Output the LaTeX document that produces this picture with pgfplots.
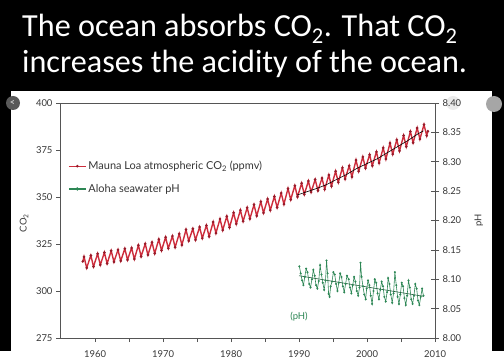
\documentclass[border=0pt]{standalone}
\usepackage{pgfplots}
\pgfplotsset{compat=1.18}
\usepackage{fontspec}
\setmainfont{Lato}
\newfontfamily\titlefont{Carlito}
\definecolor{co2red}{RGB}{205,45,60}
\definecolor{co2dark}{RGB}{150,25,40}
\definecolor{phgreen}{RGB}{45,135,85}
\definecolor{axgray}{RGB}{85,85,85}
\definecolor{txtgray}{RGB}{55,55,55}

\pgfplotstableread{
x y
1958.20 315.7
1958.38 318.2
1958.78 312.3
1959.38 318.9
1959.78 313.0
1960.38 319.8
1960.78 313.9
1961.38 320.5
1961.78 314.6
1962.38 321.4
1962.78 315.5
1963.38 321.9
1963.78 316.0
1964.38 322.5
1964.78 316.6
1965.38 322.9
1965.78 317.0
1966.38 324.3
1966.78 318.4
1967.38 325.1
1967.78 319.2
1968.38 325.9
1968.78 320.0
1969.38 327.5
1969.78 321.6
1970.38 328.6
1970.78 322.7
1971.38 329.2
1971.78 323.3
1972.38 330.4
1972.78 324.5
1973.38 332.6
1973.78 326.7
1974.38 333.1
1974.78 327.2
1975.38 334.0
1975.78 328.1
1976.38 334.9
1976.78 329.0
1977.38 336.7
1977.78 330.8
1978.38 338.3
1978.78 332.4
1979.38 339.7
1979.78 333.8
1980.38 341.6
1980.78 335.7
1981.38 343.0
1981.78 337.1
1982.38 344.3
1982.78 338.4
1983.38 345.9
1983.78 340.0
1984.38 347.5
1984.78 341.6
1985.38 348.9
1985.78 343.0
1986.38 350.3
1986.78 344.4
1987.38 352.1
1987.78 346.2
1988.38 354.5
1988.78 348.6
1989.38 356.0
1989.78 350.1
1990.38 357.3
1990.78 351.4
1991.38 358.5
1991.78 352.6
1992.38 359.3
1992.78 353.4
1993.38 360.0
1993.78 354.1
1994.38 361.7
1994.78 355.8
1995.38 363.7
1995.78 357.8
1996.38 365.5
1996.78 359.6
1997.38 366.6
1997.78 360.7
1998.38 369.6
1998.78 363.7
1999.38 371.3
1999.78 365.4
2000.38 372.5
2000.78 366.6
2001.38 374.0
2001.78 368.1
2002.38 376.1
2002.78 370.2
2003.38 378.7
2003.78 372.8
2004.38 380.4
2004.78 374.5
2005.38 382.7
2005.78 376.8
2006.38 384.8
2006.78 378.9
2007.38 386.7
2007.78 380.8
2008.38 388.5
2008.78 382.6
2008.95 385.0
}\co

\pgfplotstableread{
x y
1989.7 351.0
1991.0 352.6
1992.5 354.4
1994.0 356.5
1995.5 359.3
1997.0 362.0
1998.5 365.2
2000.0 367.8
2001.5 370.3
2003.0 373.6
2004.5 376.8
2006.0 380.0
2007.5 383.6
2008.3 385.2
}\aloha

\pgfplotstableread{
x y
1990.05 8.122
1990.25 8.110
1990.45 8.098
1990.65 8.090
1990.85 8.104
1991.05 8.118
1991.25 8.112
1991.50 8.092
1991.70 8.086
1991.90 8.100
1992.10 8.116
1992.30 8.106
1992.50 8.090
1992.70 8.084
1992.90 8.097
1993.10 8.124
1993.30 8.108
1993.50 8.094
1993.70 8.082
1993.90 8.098
1994.05 8.132
1994.20 8.110
1994.35 8.075
1994.50 8.070
1994.65 8.088
1994.85 8.096
1995.05 8.112
1995.25 8.108
1995.45 8.092
1995.65 8.080
1995.85 8.094
1996.05 8.110
1996.25 8.104
1996.45 8.088
1996.65 8.078
1996.85 8.092
1997.05 8.106
1997.30 8.100
1997.50 8.086
1997.70 8.076
1997.90 8.090
1998.10 8.104
1998.30 8.096
1998.50 8.080
1998.70 8.072
1998.90 8.086
1999.05 8.128
1999.20 8.104
1999.40 8.088
1999.60 8.074
1999.80 8.066
1999.95 8.084
2000.15 8.098
2000.35 8.090
2000.55 8.072
2000.75 8.058
2000.95 8.080
2001.15 8.100
2001.35 8.094
2001.55 8.076
2001.75 8.066
2001.95 8.082
2002.15 8.096
2002.35 8.088
2002.55 8.070
2002.75 8.062
2002.95 8.078
2003.10 8.102
2003.30 8.092
2003.50 8.074
2003.70 8.060
2003.90 8.076
2004.10 8.112
2004.30 8.090
2004.50 8.070
2004.70 8.058
2004.90 8.074
2005.10 8.094
2005.30 8.088
2005.50 8.068
2005.70 8.056
2005.90 8.072
2006.10 8.098
2006.30 8.086
2006.50 8.066
2006.70 8.058
2006.90 8.072
2007.10 8.092
2007.30 8.084
2007.50 8.064
2007.70 8.056
2007.90 8.070
2008.10 8.084
2008.30 8.072
}\ph

\pgfplotstableread{
x y
1990.0 8.106
2008.3 8.071
}\phtrend

\begin{document}
\begin{tikzpicture}
\begin{scope}[x=1bp,y=1bp]
\path[use as bounding box] (0,0) rectangle (504,351);
\fill[black] (0,0) rectangle (504,351);
\fill[white] (11,0) rectangle (492,260);
\fill[black!8] (453,248) circle (7);
\fill[black!35] (494,247) circle (8);
\fill[black!65] (13,248) circle (7);
\node[text=black!20, font=\fontsize{9}{9}\selectfont\bfseries, inner sep=0] at (12.5,248) {<};
\node[anchor=base west, text=white, inner sep=0, font=\titlefont\fontsize{32.3}{36}\selectfont] at (22,314) {The ocean absorbs CO\textsubscript{2}. That CO\textsubscript{2}};
\node[anchor=base west, text=white, inner sep=0, font=\titlefont\fontsize{32.3}{36}\selectfont] at (22,278) {increases the acidity of the ocean.};
\end{scope}

\begin{axis}[
  at={(60bp,13bp)}, anchor=south west,
  scale only axis, width=375bp, height=235bp,
  xmin=1954.85, xmax=2010, ymin=275, ymax=400,
  xtick={1960,1970,...,2010}, minor xtick={1965,1975,...,2005},
  ytick={275,300,...,400},
  xtick pos=lower, ytick pos=left,
  tick align=outside, major tick length=4bp, minor tick length=4bp,
  tick style={axgray, line width=0.7pt},
  axis line style={axgray, line width=0.7pt},
  ticklabel style={font=\fontsize{9.5}{9.5}\selectfont, text=txtgray},
  /pgf/number format/assume math mode=true,
  xticklabel style={/pgf/number format/1000 sep={}, yshift=-5bp},
  ylabel={CO\textsubscript{2}},
  ylabel style={at={(rel axis cs:-0.096,0.489)}, anchor=center, font=\fontsize{9.5}{9.5}\selectfont, text=txtgray},
  legend style={at={(0.013,0.77)}, anchor=north west, draw=none, fill=none,
    font=\fontsize{11}{11}\selectfont, text=txtgray, row sep=9bp},
  legend cell align=left,
]
\addplot[co2red, line width=1.4pt, mark=*, mark size=0.5pt, mark options={co2dark}] table[x=x,y=y] {\co};
\addlegendentry{Mauna Loa atmospheric CO\textsubscript{2} (ppmv)}
\addlegendimage{phgreen, line width=1.1pt, mark=*, mark size=1pt}
\addlegendentry{Aloha seawater pH}
\addplot[black, line width=0.6pt, forget plot] table[x=x,y=y] {\aloha};
\end{axis}

\begin{axis}[
  at={(60bp,13bp)}, anchor=south west,
  scale only axis, width=375bp, height=235bp,
  xmin=1954.85, xmax=2010, ymin=8.0, ymax=8.4,
  axis x line=none, axis y line*=right,
  ytick={8.00,8.05,8.10,8.15,8.20,8.25,8.30,8.35,8.40},
  tick align=center, major tick length=8bp,
  tick style={axgray, line width=0.7pt},
  axis line style={axgray, line width=0.7pt, -},
  ticklabel style={font=\fontsize{9.5}{9.5}\selectfont, text=txtgray},
  /pgf/number format/assume math mode=true,
  yticklabel style={/pgf/number format/.cd, fixed, fixed zerofill, precision=2},
  ylabel={pH},
  ylabel style={at={(rel axis cs:1.117,0.5)}, anchor=center, font=\fontsize{9.5}{9.5}\selectfont, text=txtgray},
]
\addplot[phgreen, line width=0.6pt, mark=*, mark size=0.7pt] table[x=x,y=y] {\ph};
\addplot[phgreen!70!black, line width=0.6pt] table[x=x,y=y] {\phtrend};
\node[text=phgreen, font=\fontsize{9.5}{9.5}\selectfont] at (axis cs:1990,8.037) {(pH)};
\end{axis}
\end{tikzpicture}
\end{document}
